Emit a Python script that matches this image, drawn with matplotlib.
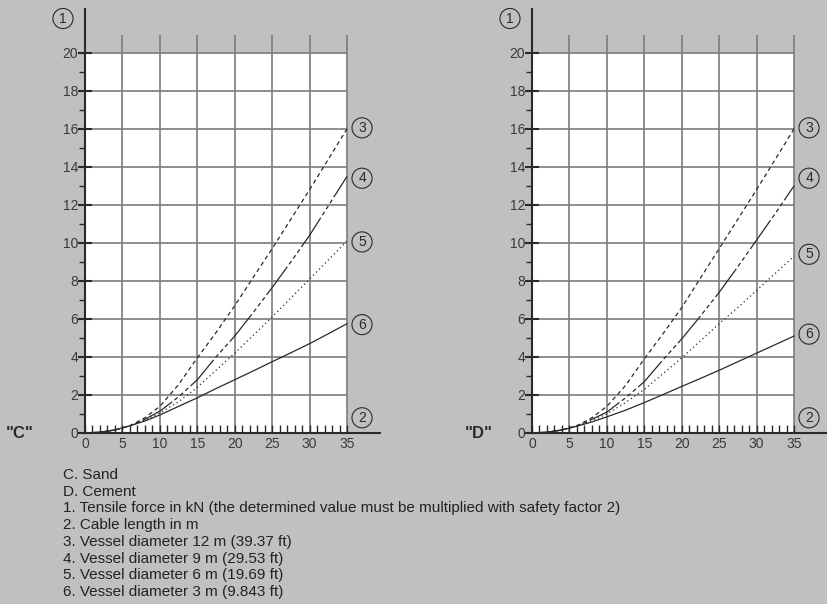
import matplotlib
matplotlib.use("Agg")
import matplotlib.pyplot as plt
from matplotlib.patches import Rectangle
from matplotlib.ticker import FixedLocator

plt.rcParams['font.family'] = ['Liberation Sans', 'DejaVu Sans']

# cable length in m
cable_len = [0, 2, 4, 6, 8, 10, 12.5, 15, 17.5, 20, 22.5, 25, 27.5, 30, 32.5, 35]

# tensile force in kN, "C" sand
sand_12m = [0, 0.04, 0.16, 0.38, 0.80, 1.40, 2.55, 3.95, 5.28, 6.70, 8.20, 9.70, 11.25, 12.8, 14.4, 16.0]
sand_9m = [0, 0.04, 0.16, 0.38, 0.72, 1.15, 1.90, 2.80, 4.00, 5.10, 6.35, 7.65, 9.00, 10.4, 11.95, 13.5]
sand_6m = [0, 0.04, 0.16, 0.38, 0.68, 1.05, 1.65, 2.40, 3.30, 4.20, 5.15, 6.10, 7.10, 8.10, 9.10, 10.1]
sand_3m = [0, 0.04, 0.16, 0.38, 0.63, 0.95, 1.40, 1.85, 2.34, 2.80, 3.27, 3.75, 4.22, 4.70, 5.22, 5.75]

# tensile force in kN, "D" cement
cem_12m = [0, 0.04, 0.16, 0.38, 0.80, 1.40, 2.50, 3.90, 5.22, 6.60, 8.15, 9.70, 11.25, 12.8, 14.4, 16.0]
cem_9m = [0, 0.04, 0.16, 0.38, 0.72, 1.10, 1.85, 2.70, 3.85, 4.95, 6.15, 7.40, 8.75, 10.15, 11.55, 13.0]
cem_6m = [0, 0.04, 0.16, 0.37, 0.65, 1.00, 1.60, 2.30, 3.12, 3.95, 4.85, 5.75, 6.60, 7.50, 8.40, 9.3]
cem_3m = [0, 0.04, 0.16, 0.36, 0.58, 0.85, 1.20, 1.60, 2.02, 2.45, 2.87, 3.30, 3.75, 4.20, 4.65, 5.1]

x_ticks = [0, 5, 10, 15, 20, 25, 30, 35]
y_ticks = [0, 2, 4, 6, 8, 10, 12, 14, 16, 18, 20]

legend_lines = [
    "C. Sand",
    "D. Cement",
    "1. Tensile force in kN (the determined value must be multiplied with safety factor 2)",
    "2. Cable length in m",
    "3. Vessel diameter 12 m (39.37 ft)",
    "4. Vessel diameter 9 m (29.53 ft)",
    "5. Vessel diameter 6 m (19.69 ft)",
    "6. Vessel diameter 3 m (9.843 ft)",
]

BG = '#c0c0c0'
GRID = '#7c7c7c'
DARK = '#2a2a2a'
W, H = 827, 604


def circled(ax, x, y, s):
    ax.text(x, y, s, ha='center', va='center', fontsize=10, color=DARK,
            clip_on=False,
            bbox=dict(boxstyle='circle,pad=0.22', fc='none', ec=DARK, lw=0.8))


def draw_panel(ax, series, tag, tag_x, label_y):
    ax.set_facecolor(BG)
    ax.set_xlim(0, 39.4)
    ax.set_ylim(0, 22.3)
    ax.add_patch(Rectangle((0, 0), 35, 20, fc='white', ec='none', zorder=0))
    ax.hlines(y_ticks[1:], 0, 35, color=GRID, lw=1.2, zorder=1)
    ax.vlines(x_ticks[1:], 0, 20.95, color=GRID, lw=1.2, zorder=1)

    styles = [
        dict(ls=(0, (3.4, 2.6))),
        dict(ls=(0, (28, 2.4, 3.3, 2.4, 3.3, 2.4, 3.3, 2.4))),
        dict(ls=(0, (1, 2.4))),
        dict(ls='-'),
    ]
    for yv, st in zip(series, styles):
        ax.plot(cable_len, yv, color=DARK, lw=0.9, zorder=3, **st)

    for side in ['top', 'right']:
        ax.spines[side].set_visible(False)
    for side in ['left', 'bottom']:
        ax.spines[side].set_color(DARK)
        ax.spines[side].set_linewidth(1.5)
        ax.spines[side].set_zorder(4)

    ax.xaxis.set_major_locator(FixedLocator(x_ticks))
    ax.xaxis.set_minor_locator(FixedLocator([v for v in range(1, 36) if v % 5]))
    ax.tick_params(axis='x', which='both', direction='in', length=6,
                   width=1, color=DARK, labelsize=10, labelcolor='#3a3a3a', pad=3)
    ax.yaxis.set_major_locator(FixedLocator(y_ticks))
    ax.yaxis.set_minor_locator(FixedLocator(list(range(1, 20, 2))))
    ax.tick_params(axis='y', which='major', direction='inout', length=10,
                   width=1.5, color=DARK, labelsize=10, labelcolor='#3a3a3a', pad=0)
    ax.tick_params(axis='y', which='minor', direction='out', length=4,
                   width=1, color=DARK)

    circled(ax, -2.94, 21.8, '1')
    for s, yy in zip(['3', '4', '5', '6', '2'], label_y):
        circled(ax, 37.0, yy, s)
    ax.text(tag_x, 0, tag, ha='center', va='center', fontsize=12,
            fontweight='bold', color=DARK, clip_on=False)


fig = plt.figure(figsize=(W / 100, H / 100), dpi=100, facecolor=BG)
ax_w = 295 / W
ax_h = 424 / H
ax_b = (H - 433) / H
ax_c = fig.add_axes([85 / W, ax_b, ax_w, ax_h])
ax_d = fig.add_axes([532 / W, ax_b, ax_w, ax_h])

draw_panel(ax_c, [sand_12m, sand_9m, sand_6m, sand_3m], '"C"', -8.7,
           [16.05, 13.4, 10.05, 5.7, 0.8])
draw_panel(ax_d, [cem_12m, cem_9m, cem_6m, cem_3m], '"D"', -7.1,
           [16.05, 13.4, 9.4, 5.2, 0.8])

for i, line in enumerate(legend_lines):
    fig.text(63 / W, 1 - (475 + i * 16.7) / H, line, ha='left', va='center',
             fontsize=11, color='#222222')

fig.savefig('out.png', dpi=100, facecolor=BG)
